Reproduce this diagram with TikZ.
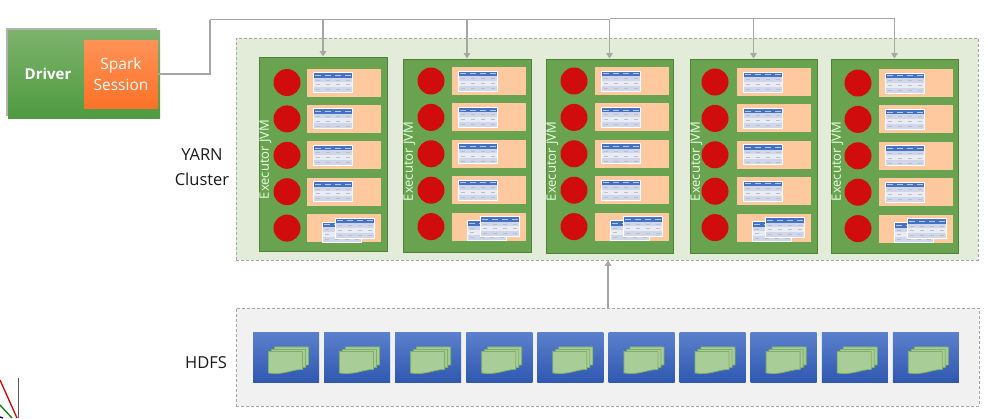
\documentclass[tikz,border=0pt]{standalone}
\usepackage{fontspec}
\setmainfont{Open Sans}
\usetikzlibrary{arrows.meta}
\definecolor{connGray}{HTML}{A6A6A6}
\definecolor{execGreen}{HTML}{6AA34F}
\definecolor{execEdge}{HTML}{4F8236}
\definecolor{taskRed}{HTML}{D00C0C}
\definecolor{partOrange}{HTML}{FEC99F}
\definecolor{headBlue}{HTML}{4472C4}
\definecolor{rowDark}{HTML}{CFD5EA}
\definecolor{rowLight}{HTML}{E9EBF5}
\definecolor{docGreen}{HTML}{A9CD97}
\definecolor{docEdge}{HTML}{7FB06A}
\definecolor{tileTop}{HTML}{5B80CC}
\definecolor{tileBottom}{HTML}{2F58B0}
\definecolor{driverTop}{HTML}{7DB26C}
\definecolor{driverBottom}{HTML}{4F9A40}
\definecolor{sessionTop}{HTML}{FF9257}
\definecolor{sessionBottom}{HTML}{FB7228}
\definecolor{yarnFill}{HTML}{E2ECD9}
\definecolor{hdfsFill}{HTML}{F1F1F1}
\tikzset{
    conn/.style={draw=connGray, line width=1.6pt},
    connarrow/.style={conn, -{Triangle[length=5.5pt,width=6.5pt]}},
    zone/.style={draw=black!35, densely dashed, line width=0.9pt, inner sep=0pt},
    executor/.style={draw=execEdge, fill=execGreen, line width=1pt, inner sep=0pt},
    task/.style={circle, fill=taskRed, minimum size=27pt, inner sep=0pt},
    partition/.style={fill=partOrange, minimum width=74pt, minimum height=28pt, inner sep=0pt},
    tile/.style={top color=tileTop, bottom color=tileBottom, minimum width=66pt, minimum height=50pt, inner sep=0pt},
    doc/.style={fill=docGreen, draw=docEdge, line width=0.8pt},
    zonetext/.style={font=\fontsize{16.5}{25}\selectfont, align=center, text=black!90},
    thumb/.style={anchor=north west, inner sep=0pt, outer sep=0pt},
}
% one small table and one stack of files, drawn once
\newsavebox{\tablebox}
\sbox{\tablebox}{\begin{tikzpicture}[x=1pt, y=-1pt]
    \fill[white] (0,0) rectangle (40,21);
    \fill[headBlue] (1,1) rectangle (39,5.5);
    \fill[rowDark] (1,5.5) rectangle (39,10);
    \fill[rowLight] (1,10) rectangle (39,15);
    \fill[rowDark] (1,15) rectangle (39,20);
    \draw[white!60!headBlue, line width=0.9pt] (2,3.2) -- (8,3.2) (12,3.2) -- (18,3.2) (22,3.2) -- (28,3.2) (32,3.2) -- (38,3.2);
    \draw[black!25, line width=0.6pt] (3,7.8) -- (7,7.8) (13,7.8) -- (17,7.8) (23,7.8) -- (27,7.8) (33,7.8) -- (37,7.8)
        (3,12.5) -- (7,12.5) (13,12.5) -- (17,12.5) (23,12.5) -- (27,12.5) (33,12.5) -- (37,12.5)
        (3,17.5) -- (7,17.5) (13,17.5) -- (17,17.5) (23,17.5) -- (27,17.5) (33,17.5) -- (37,17.5);
\end{tikzpicture}}
\newsavebox{\stackbox}
\sbox{\stackbox}{\begin{tikzpicture}[x=1pt, y=-1pt]
    \foreach \dx/\dy in {6/-4.5,3/-2,0/0}
        \draw[doc, shift={(\dx,\dy)}] (0,4.5) -- (34,4.5) -- (34,22.5) .. controls (23,22.5) and (15,28.5) .. (0,26) -- cycle;
\end{tikzpicture}}
\begin{document}
\begin{tikzpicture}[x=1pt, y=-1pt]
    \useasboundingbox (0,0) rectangle (987,418);
    % corner of another figure
    \draw[black!65, line width=1.5pt] (18.5,378) -- (18.5,418);
    \draw[red!85!black, line width=1.3pt] (0,380) -- (17,418);
    \draw[green!50!black, line width=1.3pt] (0,405) -- (12,418);
    \draw[blue!60!black, line width=1.3pt] (0,417) -- (3,418);
    % driver
    \fill[black!30] (6,28) rectangle (157,116);
    \node[top color=driverTop, bottom color=driverBottom, minimum width=152pt, minimum height=88pt, inner sep=0pt] (driver) at (84,74) {};
    \node[text=white, font=\fontsize{15}{18}\selectfont\bfseries] (drivertext) at (48,74) {Driver};
    \node[top color=sessionTop, bottom color=sessionBottom, minimum width=74pt, minimum height=68pt, inner sep=0pt, text=white, align=center, font=\fontsize{15.5}{21}\selectfont] (session) at (121,74) {Spark\\Session};
    % cluster and hdfs
    \node[zone, fill=yarnFill, minimum width=742pt, minimum height=222pt] (yarn) at (607,149) {};
    \node[zone, fill=hdfsFill, minimum width=743pt, minimum height=98pt] (hdfs) at (607.5,357) {};
    \node[zonetext] (yarntext) at (202,167) {YARN\\Cluster};
    \node[zonetext] (hdfstext) at (206,363) {HDFS};
    % executors
    \foreach \i/\bl/\bt/\br/\bb/\tx/\ty/\px in {1/259/57/387/251/287/82.5/307, 2/403/59/531/252/431/81/452, 3/546/59/673/253/574/81/595, 4/690/59/817/253/715/82/737, 5/831/59/958/253/858/83/879} {
        \node[executor, minimum width={(\br-\bl)*1pt}, minimum height={(\bb-\bt)*1pt}] (exec\i) at ({(\bl+\br)/2},{(\bt+\bb)/2}) {};
        \node[rotate=90, text=white!90!green, font=\fontsize{13}{15}\selectfont] (jvm\i) at (\bl+6.5,\bt+102.5) {Executor JVM};
        \foreach \j in {0,...,4} {
            \node[task] (task\i\j) at (\tx,\ty+36.4*\j) {};
            \node[partition] (part\i\j) at (\px+37,\ty+36.4*\j) {};
        }
        \foreach \j in {0,...,3}
            \node[thumb] (table\i\j) at (\px+6,\ty+36.4*\j-10.5) {\usebox{\tablebox}};
        \node[thumb] (tableback\i) at (\px+15,\ty+139.1) {\usebox{\tablebox}};
        \node[thumb] (tablefront\i) at (\px+28,\ty+135.1) {\usebox{\tablebox}};
    }
    % files
    \foreach \k in {0,...,9} {
        \node[tile] (tile\k) at (286+71.1*\k,357) {};
        \node[thumb] (stack\k) at (268+71.1*\k,346.5) {\usebox{\stackbox}};
    }
    % connectors
    \coordinate (busleft) at (210,19.5);
    \coordinate (busright) at (610,18.5);
    \draw[conn] (session.east) -| (busleft);
    \foreach \i in {1,2,3}
        \draw[connarrow] (busleft) -| (exec\i.north);
    \foreach \i in {4,5}
        \draw[connarrow] (busright) -| (exec\i.north);
    \coordinate (hdfsup) at (608,308);
    \draw[connarrow] (hdfsup) -- (hdfsup |- yarn.south);
\end{tikzpicture}
\end{document}
